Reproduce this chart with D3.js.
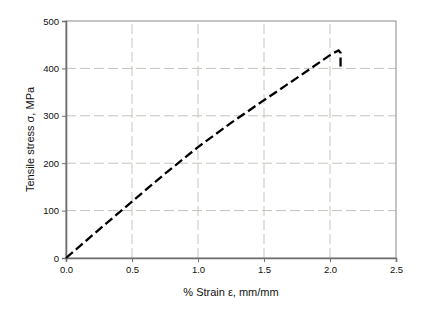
<!DOCTYPE html>
<html>
<head>
<meta charset="utf-8">
<script src="https://cdn.jsdelivr.net/npm/d3@7"></script>
<style>
  body { margin: 0; background: #fff; }
  svg text { font-family: "Liberation Sans", Arial, sans-serif; fill: #111; }
</style>
</head>
<body>
<main></main>
<script>
// strain (%) and stress (MPa)
const strain = [0, 0.25, 0.5, 0.75, 1.0, 1.25, 1.5, 1.75, 2.0, 2.065, 2.08, 2.08];
const stress = [0, 60, 119, 178, 234, 285, 333, 380, 428, 438, 433, 399];
const xTicks = [0, 0.5, 1.0, 1.5, 2.0, 2.5];
const yTicks = [0, 100, 200, 300, 400, 500];

const width = 429, height = 310;
const margin = {left: 66, right: 33, top: 21, bottom: 52};

const svg = d3.select("main").append("svg")
    .attr("width", width)
    .attr("height", height);

const x = d3.scaleLinear().domain([0, 2.5]).range([margin.left, width - margin.right]);
const y = d3.scaleLinear().domain([0, 500]).range([height - margin.bottom, margin.top]);

// grid lines, dashed grey
const grid = svg.append("g")
    .attr("stroke", "#c4c4bc")
    .attr("stroke-width", 1)
    .attr("stroke-dasharray", "10,4");
grid.selectAll(".vx")
  .data(xTicks.filter(d => d > 0 && d < 2.5))
  .join("line")
    .attr("x1", d => x(d)).attr("x2", d => x(d))
    .attr("y1", y(0)).attr("y2", y(500));
grid.selectAll(".hy")
  .data(yTicks.filter(d => d > 0 && d < 500))
  .join("line")
    .attr("x1", x(0)).attr("x2", x(2.5))
    .attr("y1", d => y(d)).attr("y2", d => y(d));

// plot frame
svg.append("rect")
    .attr("x", x(0)).attr("y", y(500))
    .attr("width", x(2.5) - x(0)).attr("height", y(0) - y(500))
    .attr("fill", "none")
    .attr("stroke", "#8a8a8a")
    .attr("stroke-width", 1);

// axes
const xAxis = svg.append("g")
    .attr("transform", `translate(0,${y(0)})`)
    .call(d3.axisBottom(x).tickValues(xTicks).tickFormat(d3.format(".1f")).tickSize(4).tickPadding(4));
const yAxis = svg.append("g")
    .attr("transform", `translate(${x(0)},0)`)
    .call(d3.axisLeft(y).tickValues(yTicks).tickSize(4).tickPadding(3));

[xAxis, yAxis].forEach(a => {
  a.select(".domain").attr("stroke", "#6e6e6e").attr("stroke-width", 1.6);
  a.selectAll(".tick line").attr("stroke", "#6e6e6e");
  a.selectAll(".tick text").attr("font-size", 9.5).attr("fill", "#111");
});

// stress-strain curve
const line = d3.line()
    .x((d, i) => x(strain[i]))
    .y((d, i) => y(stress[i]));

svg.append("path")
    .datum(strain)
    .attr("d", line)
    .attr("fill", "none")
    .attr("stroke", "#000")
    .attr("stroke-width", 2.3)
    .attr("stroke-dasharray", "9,4");

// axis titles
svg.append("text")
    .attr("x", (x(0) + x(2.5)) / 2)
    .attr("y", 296)
    .attr("text-anchor", "middle")
    .attr("font-size", 11)
    .text("% Strain ε, mm/mm");

svg.append("text")
    .attr("transform", `translate(34,${(y(0) + y(500)) / 2}) rotate(-90)`)
    .attr("text-anchor", "middle")
    .attr("font-size", 11)
    .text("Tensile stress σ, MPa");
</script>
</body>
</html>
